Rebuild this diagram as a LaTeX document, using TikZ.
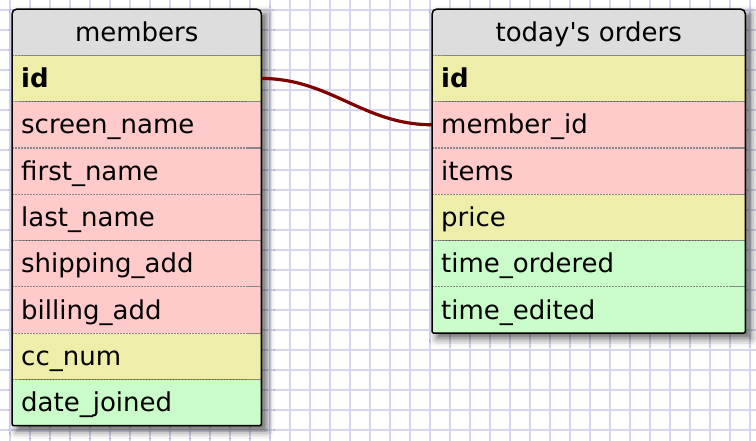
\documentclass[tikz,border=0pt]{standalone}
\usepackage{fontspec}
\setmainfont{DejaVu Sans}[Ligatures=TeXOff]
\usetikzlibrary{positioning,backgrounds,shadows.blur}
\definecolor{headcol}{RGB}{221,221,221}
\definecolor{numcol}{RGB}{238,238,170}
\definecolor{charcol}{RGB}{255,202,202}
\definecolor{datecol}{RGB}{202,252,202}
\definecolor{gridcol}{RGB}{214,214,242}
\definecolor{linkcol}{RGB}{128,0,0}
\definecolor{sepcol}{RGB}{136,136,136}

\begin{document}
\begin{tikzpicture}[%
    x=1pt, y=-1pt,              % one unit per pixel, y going down
    node distance=0pt,          % rows sit flush under each other
    every node/.style={font=\fontsize{26}{30}\selectfont},
    ]
\tikzset{
  field/.style={inner xsep=9pt, inner ysep=0pt, minimum height=45.9pt,
                text height=32pt, text depth=13.9pt, align=left},
  mfield/.style={field, text width=231pt},
  ofield/.style={field, text width=295pt},
  numf/.style={fill=numcol},
  charf/.style={fill=charcol},
  datef/.style={fill=datecol},
  keyf/.style={font=\fontsize{26}{30}\selectfont\bfseries},
  tabhead/.style={align=center, anchor=north west},
  border/.style={draw=black, line width=1.5pt},
  sepdots/.style={draw=sepcol, line width=1.2pt, dash pattern=on 1.5pt off 1.5pt},
  sepline/.style={draw=sepcol, line width=1.2pt},
  gridline/.style={draw=gridcol, line width=1.6pt},
  link/.style={draw=linkcol, line width=3.2pt},
  tabshadow/.style={blur shadow={shadow xshift=5pt, shadow yshift=-5pt,
                    shadow blur radius=8pt, shadow opacity=65}},
}
\useasboundingbox (0,0) rectangle (756,440);

% members table
\node [mfield, tabhead] (m-head) at (12,9) {members};
\node [mfield, numf, keyf, below=of m-head] (m-id) {id};
\node [mfield, charf, below=of m-id] (m-screen) {screen\_name};
\node [mfield, charf, below=of m-screen] (m-first) {first\_name};
\node [mfield, charf, below=of m-first] (m-last) {last\_name};
\node [mfield, charf, below=of m-last] (m-ship) {shipping\_add};
\node [mfield, charf, below=of m-ship] (m-bill) {billing\_add};
\node [mfield, numf, below=of m-bill] (m-cc) {cc\_num};
\node [mfield, datef, below=of m-cc] (m-date) {date\_joined};

% orders table
\node [ofield, tabhead] (o-head) at (432,9) {today's orders};
\node [ofield, numf, keyf, below=of o-head] (o-id) {id};
\node [ofield, charf, below=of o-id] (o-member) {member\_id};
\node [ofield, charf, below=of o-member] (o-items) {items};
\node [ofield, numf, below=of o-items] (o-price) {price};
\node [ofield, datef, below=of o-price] (o-ordered) {time\_ordered};
\node [ofield, datef, below=of o-ordered] (o-edited) {time\_edited};

\begin{scope}[on background layer]
  \draw [gridline, step=20pt, xshift=10pt, yshift=-10pt] (-20,-20) grid (760,460);
  \path [tabshadow] (m-head.north west) rectangle (m-date.south east);
  \path [tabshadow] (o-head.north west) rectangle (o-edited.south east);
  \fill [headcol] (m-head.south west) [rounded corners=5pt] -- (m-head.north west)
      -- (m-head.north east) [sharp corners] -- (m-head.south east) -- cycle;
  \fill [headcol] (o-head.south west) [rounded corners=5pt] -- (o-head.north west)
      -- (o-head.north east) [sharp corners] -- (o-head.south east) -- cycle;
\end{scope}

% dotted row separators, solid at the right end
\foreach \r in {m-head,m-id,m-screen,m-first,m-last,m-ship,m-bill,m-cc,
                o-head,o-id,o-member,o-items,o-price,o-ordered} {
  \draw [sepdots] (\r.south west) -- ([xshift=-15pt]\r.south east);
  \draw [sepline] ([xshift=-15pt]\r.south east) -- (\r.south east);
}

\draw [link] (m-id.east) to[out=0, in=180] (o-member.west);

\draw [border] (m-date.south west) [rounded corners=5pt] -- (m-head.north west)
    -- (m-head.north east) [rounded corners=2pt] -- (m-date.south east) -- cycle;
\draw [border] (o-edited.south west) [rounded corners=5pt] -- (o-head.north west)
    -- (o-head.north east) [rounded corners=2pt] -- (o-edited.south east) -- cycle;
\end{tikzpicture}
\end{document}
